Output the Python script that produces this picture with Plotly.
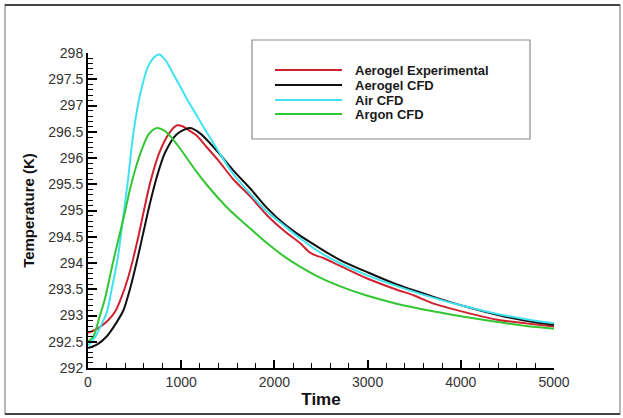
import plotly.graph_objects as go

# ---------------- data ----------------
series_names = ["Aerogel Experimental", "Aerogel CFD", "Air CFD", "Argon CFD"]

t_exp = [0, 100, 200, 290, 370, 430, 480, 540, 600, 670, 770, 870, 950, 1020, 1080, 1170, 1277,
         1400, 1556, 1750, 1920, 2100, 2275, 2380, 2450, 2520, 2700, 2990, 3300, 3500, 3700,
         4050, 4420, 4700, 5000]
T_exp = [292.67, 292.75, 292.88, 293.07, 293.4, 293.72, 294.05, 294.5, 295.0, 295.55, 296.12,
         296.47, 296.62, 296.6, 296.53, 296.42, 296.2, 295.95, 295.6, 295.25, 294.91, 294.62,
         294.38, 294.2, 294.14, 294.1, 293.95, 293.71, 293.5, 293.38, 293.23, 293.06, 292.91,
         292.85, 292.79]

t_cfd = [0, 100, 200, 300, 380, 450, 520, 590, 660, 740, 826, 950, 1094, 1202, 1300, 1400, 1556,
         1750, 1920, 2100, 2275, 2490, 2700, 2990, 3300, 3700, 4050, 4420, 4700, 5000]
T_cfd = [292.38, 292.45, 292.6, 292.85, 293.1, 293.5, 294.0, 294.55, 295.1, 295.65, 296.1,
         296.45, 296.57, 296.47, 296.3, 296.1, 295.77, 295.4, 295.05, 294.75, 294.52, 294.28,
         294.06, 293.83, 293.6, 293.36, 293.17, 293.0, 292.9, 292.82]

t_air = [0, 80, 150, 200, 260, 320, 380, 430, 485, 558, 644, 700, 762, 825, 880, 915, 990,
         1060, 1170, 1277, 1416, 1556, 1750, 1920, 2100, 2275, 2490, 2700, 2990, 3300, 3700,
         4050, 4420, 4700, 5000]
T_air = [292.42, 292.6, 292.85, 293.05, 293.55, 294.1, 294.9, 295.6, 296.45, 297.2, 297.74,
         297.9, 297.97, 297.88, 297.72, 297.6, 297.36, 297.13, 296.8, 296.48, 296.08, 295.7,
         295.3, 294.98, 294.72, 294.47, 294.2, 294.0, 293.77, 293.57, 293.34, 293.17, 293.02,
         292.93, 292.85]

t_arg = [0, 57, 120, 182, 230, 270, 343, 400, 450, 510, 575, 650, 740, 820, 900, 980, 1060,
         1160, 1270, 1416, 1524, 1700, 1920, 2100, 2275, 2490, 2700, 2990, 3300, 3700, 4050,
         4420, 4700, 5000]
T_arg = [292.5, 292.6, 292.95, 293.32, 293.7, 294.03, 294.57, 295.0, 295.4, 295.8, 296.15,
         296.45, 296.57, 296.52, 296.38, 296.2, 296.0, 295.75, 295.5, 295.2, 295.0, 294.72,
         294.38, 294.13, 293.93, 293.72, 293.56, 293.38, 293.23, 293.08, 292.97, 292.87, 292.8,
         292.75]

x_tickvals = [0, 1000, 2000, 3000, 4000, 5000]
y_tickvals = [292, 292.5, 293, 293.5, 294, 294.5, 295, 295.5, 296, 296.5, 297, 297.5, 298]
y_ticktext = ["292", "292.5", "293", "293.5", "294", "294.5", "295", "295.5", "296", "296.5",
              "297", "297.5", "298"]

colors = ["#d0222e", "#111111", "#40e2f0", "#33c633"]

# ---------------- layout geometry ----------------
W, H = 623, 418
L, R, T, B = 88, 554, 53, 368  # plot area in pixels


def px(x):
    return (x - L) / (R - L)


def py(y):
    return (B - y) / (B - T)


FONT = "Arial, Liberation Sans, sans-serif"

fig = go.Figure()
for name, tx, ty, c in zip(series_names, [t_exp, t_cfd, t_air, t_arg],
                           [T_exp, T_cfd, T_air, T_arg], colors):
    fig.add_trace(go.Scatter(x=tx, y=ty, mode="lines", name=name,
                             line=dict(color=c, width=2, shape="spline", smoothing=0.8),
                             showlegend=False))

shapes = []
annotations = []
# outer border
shapes.append(dict(type="rect", xref="paper", yref="paper", x0=px(5), x1=px(620),
                   y0=py(414), y1=py(5), line=dict(color="#a0a0a0", width=1.5)))
shapes.append(dict(type="line", xref="paper", yref="paper", x0=px(5), x1=px(620),
                   y0=py(5), y1=py(5), line=dict(color="#444", width=2)))
shapes.append(dict(type="line", xref="paper", yref="paper", x0=px(5), x1=px(620),
                   y0=py(414), y1=py(414), line=dict(color="#444", width=2)))
# legend box
shapes.append(dict(type="rect", xref="paper", yref="paper", x0=px(252), x1=px(530),
                   y0=py(139), y1=py(40), line=dict(color="#8a8a8a", width=1.2),
                   fillcolor="white"))
rows = [70, 85, 100, 114]
for name, c, ry in zip(series_names, colors, rows):
    shapes.append(dict(type="line", xref="paper", yref="paper", x0=px(275), x1=px(342),
                       y0=py(ry), y1=py(ry), line=dict(color=c, width=2)))
    annotations.append(dict(text="<b>" + name + "</b>", xref="paper", yref="paper",
                            x=px(353), y=py(ry), xanchor="left", yanchor="middle",
                            showarrow=False, font=dict(family=FONT, size=13, color="#1a1a1a")))

fig.update_layout(
    width=W, height=H,
    margin=dict(l=L, r=W - R, t=T, b=H - B, pad=0),
    paper_bgcolor="white", plot_bgcolor="white",
    shapes=shapes, annotations=annotations,
    showlegend=False,
    font=dict(family=FONT, color="#2a2a2a"),
)
fig.update_xaxes(
    range=[0, 5000], tickvals=x_tickvals, showgrid=False, zeroline=False,
    showline=True, linecolor="black", linewidth=2,
    ticks="inside", ticklen=8, tickwidth=2, tickcolor="black",
    minor=dict(dtick=200, tick0=0, ticks="inside", ticklen=5, tickcolor="black", tickwidth=1),
    tickfont=dict(family=FONT, size=14, color="#333"),
    title=dict(text="<b>Time</b>", font=dict(family=FONT, size=17, color="#111"), standoff=4),
    automargin=False,
)
fig.update_yaxes(
    range=[292, 298], tickvals=y_tickvals, ticktext=y_ticktext, showgrid=False, zeroline=False,
    showline=True, linecolor="black", linewidth=2,
    ticks="inside", ticklen=9, tickwidth=2, tickcolor="black",
    minor=dict(dtick=0.1, tick0=292, ticks="inside", ticklen=5, tickcolor="black", tickwidth=1),
    tickfont=dict(family=FONT, size=14, color="#333"),
    title=dict(text="<b>Temperature (K)</b>", font=dict(family=FONT, size=15, color="#111"),
               standoff=10),
    automargin=False,
)

fig.write_html("out.html")
